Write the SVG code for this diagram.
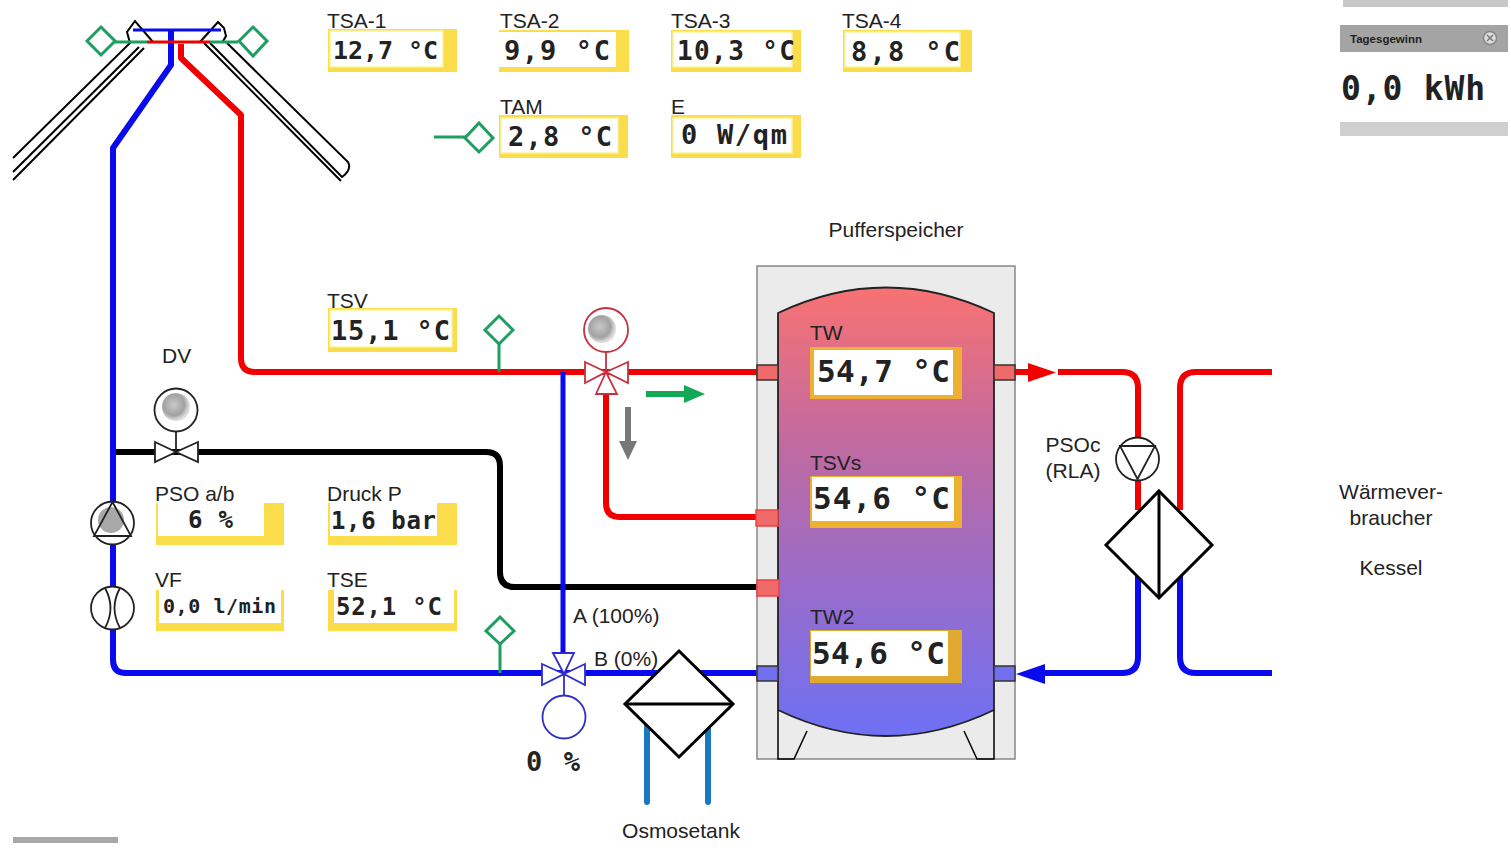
<svg xmlns="http://www.w3.org/2000/svg" width="1511" height="850" viewBox="0 0 1511 850">
<style>
.p{fill:none;stroke-width:6;stroke-linejoin:round;stroke-linecap:butt}
.r{stroke:#f00000}.b{stroke:#0a0aee}.k{stroke:#000}.o{stroke:#1a78c0;stroke-linecap:round}
.t{font-family:"Liberation Sans",Arial,sans-serif;font-size:21px;fill:#222}
.v{font-family:"DejaVu Sans Mono","Liberation Mono",monospace;font-weight:700;fill:#222}
.y{fill:#fbdc4a}.w{fill:#fff;stroke:#f6f3a0;stroke-width:1.500}.n{fill:#fff}
.s{fill:none;stroke:#000;stroke-width:2}
.g{fill:none;stroke:#1f9e62;stroke-width:3}
.vk{fill:#fff;stroke:#222;stroke-width:1.8}
.vr{fill:#fff;stroke:#c83040;stroke-width:1.8}
.vb{fill:#fff;stroke:#2f2fc8;stroke-width:1.8}
.c{fill:none;stroke:#000;stroke-width:2}
</style>
<defs>
<linearGradient id="tank" x1="0" y1="0" x2="0" y2="1"><stop offset="0" stop-color="#f87272"/><stop offset="0.35" stop-color="#c06aa0"/><stop offset="0.65" stop-color="#9a6cc8"/><stop offset="1" stop-color="#6e70f4"/></linearGradient>
<radialGradient id="ball" cx="0.42" cy="0.42" r="0.55"><stop offset="0" stop-color="#c8c8c8"/><stop offset="0.7" stop-color="#a2a2a2"/><stop offset="1" stop-color="#ddd"/></radialGradient>
</defs>
<rect width="1511" height="850" fill="#fff"/>

<g id="collectors">
<path class="s" d="M13 158L130 43L127 32L135 21L153 42M13 172L139 47M13 180L144 48"/>
<path class="s" d="M227 43L348 162Q352 170 342 177L210 43M204 43L341 181M200 42L218 22L224 28L226 36L222 43"/>
</g>

<g id="connectors">
<path class="p b" d="M171 30V65L113 148V660Q113 673 126 673H757"/>
<path class="p r" d="M181 44V58L241 115V358Q241 372 255 372H757"/>
<path d="M147 42H210" fill="none" stroke="#f00000" stroke-width="3"/>
<path d="M133 30H221" fill="none" stroke="#0a0aee" stroke-width="3"/>
<path class="p k" d="M116 452H486Q500 452 500 466V572Q500 587 515 587H757"/>
<path class="p b" style="stroke-width:5" d="M563 372V660"/>
<path class="p r" d="M606 392V503Q606 517 620 517H757"/>
<path class="p r" d="M1058 372H1122Q1138 372 1138 388V510"/>
<path class="p r" d="M1272 372H1196Q1180 372 1180 388V510"/>
<path class="p b" d="M1138 575V657Q1138 673 1122 673H1030"/>
<path class="p b" d="M1180 575V657Q1180 673 1196 673H1272"/>
<path class="p r" d="M1015 372H1035"/>
<path d="M1028 363L1056 372.500L1028 382Z" fill="#f00000"/>
<path d="M1016 674L1045 664V684Z" fill="#0a0aee"/>
<path class="p o" d="M647 725V802M708 725V802"/>
<path d="M114 42H147M210 42H238M434 137H466M499 344V372M500 644V673" fill="none" stroke="#1f9e62" stroke-width="3"/>
<path d="M646 394H685" stroke="#12a855" stroke-width="6" fill="none"/>
<path d="M684 385L705 394L684 403Z" fill="#12a855"/>
<path d="M628 407V443" stroke="#777" stroke-width="6" fill="none"/>
<path d="M619 441H637L628 460Z" fill="#777"/>
</g>

<g id="sensors">
<path class="g" d="M101 27L115 41L101 55L87 41Z"/>
<path class="g" d="M253 27L267 41L253 56L239 41Z"/>
<path class="g" d="M479 123L493 138L479 152L465 138Z"/>
<path class="g" d="M499 316L513 330L499 344L485 330Z"/>
<path class="g" d="M500 617L514 631L500 644L486 631Z"/>
</g>

<g id="tank-group">
<rect x="757" y="266" width="258" height="493" fill="#ebebeb" stroke="#888" stroke-width="1.500"/>
<path d="M778 313Q886 262 994 313V710Q886 762 778 710Z" fill="url(#tank)" stroke="#222" stroke-width="1.800"/>
<path class="c" style="stroke-width:1.500" d="M778 710V759H794L807 731M994 710V759H977L964 731"/>
<g stroke-width="1.500">
<rect x="757" y="365" width="21" height="15" fill="#f06a6a" stroke="#333"/>
<rect x="994" y="365" width="21" height="15" fill="#f06a6a" stroke="#333"/>
<rect x="756" y="510" width="22" height="16" fill="#f06a6a" stroke="#f04040"/>
<rect x="757" y="580" width="22" height="16" fill="#f06a6a" stroke="#f04040"/>
<rect x="757" y="666" width="21" height="15" fill="#7070ee" stroke="#333"/>
<rect x="994" y="666" width="21" height="15" fill="#7070ee" stroke="#333"/>
</g>
</g>

<g id="valve-dv">
<circle cx="176" cy="410" r="21.500" fill="#fff" stroke="#222" stroke-width="1.800"/>
<circle cx="176" cy="407" r="14" fill="url(#ball)"/>
<path d="M176 432V452" stroke="#222" stroke-width="1.800"/>
<path class="vk" d="M155 442L176 452L155 462ZM198 442L176 452L198 462Z"/>
</g>
<g id="valve-top">
<circle cx="606" cy="330" r="22" fill="#fff" stroke="#c83040" stroke-width="1.800"/>
<circle cx="602" cy="329" r="14" fill="url(#ball)"/>
<path d="M606 352V372" stroke="#c83040" stroke-width="1.800"/>
<path class="vr" d="M585 362L606 372L585 383ZM628 362L606 372L628 383ZM596 394L606 372L617 394Z"/>
</g>
<g id="valve-bottom">
<circle cx="564" cy="717" r="21.500" fill="#fff" stroke="#2f2fc8" stroke-width="1.800"/>
<path d="M564 674V696" stroke="#2f2fc8" stroke-width="1.800"/>
<path class="vb" d="M542 664L564 674L542 685ZM585 664L564 674L585 685ZM553 653L564 674L574 653Z"/>
</g>
<g id="pump-pso">
<circle cx="112.500" cy="523" r="21.500" fill="#fff" stroke="#222" stroke-width="1.800"/>
<circle cx="111" cy="520" r="13" fill="#a8a8a8"/>
<path d="M112.500 502L131 536H94Z" fill="none" stroke="#222" stroke-width="1.800"/>
</g>
<g id="flow-vf">
<circle cx="112.500" cy="608" r="21.500" fill="#fff" stroke="#222" stroke-width="1.800"/>
<path d="M105 588Q116 608 105 628M120 588Q109 608 120 628" fill="none" stroke="#222" stroke-width="1.800"/>
</g>
<g id="pump-psoc">
<circle cx="1137.500" cy="459" r="21.500" fill="#fff" stroke="#222" stroke-width="1.800"/>
<path d="M1120 446H1155L1137.500 479Z" fill="none" stroke="#222" stroke-width="1.800"/>
</g>
<g id="hx-osmose">
<path d="M679 651L733 704L679 757L625 704Z" fill="#fff" stroke="#000" stroke-width="3"/>
<path d="M625 704H733" stroke="#000" stroke-width="3"/>
</g>
<g id="hx-kessel">
<path d="M1159 491L1212 545L1159 598L1106 545Z" fill="#fff" stroke="#000" stroke-width="3"/>
<path d="M1159 491V598" stroke="#000" stroke-width="3"/>
</g>

<g id="tsa1"><text class="t" x="327" y="28">TSA-1</text><rect class="y" x="328" y="29" width="129" height="43"/><rect class="w" x="330" y="31" width="113" height="36"/><text class="v" x="333" y="59" font-size="25" textLength="105">12,7 °C</text></g>
<g id="tsa2"><text class="t" x="500" y="28">TSA-2</text><rect class="y" x="499" y="30" width="130" height="42"/><rect class="n" x="499" y="32" width="117" height="35"/><text class="v" x="504" y="60" font-size="27" textLength="106">9,9 °C</text></g>
<g id="tsa3"><text class="t" x="671" y="28">TSA-3</text><rect class="y" x="671" y="30" width="130" height="42"/><rect class="w" x="673" y="32" width="119" height="35"/><text class="v" x="677" y="60" font-size="26" textLength="118">10,3 °C</text></g>
<g id="tsa4"><text class="t" x="842" y="28">TSA-4</text><rect class="y" x="843" y="30" width="129" height="42"/><rect class="w" x="845" y="32" width="115" height="35"/><text class="v" x="851" y="61" font-size="27" textLength="109">8,8 °C</text></g>
<g id="tam"><text class="t" x="500" y="114">TAM</text><rect class="y" x="499" y="115" width="129" height="43"/><rect class="w" x="501" y="118" width="117" height="35"/><text class="v" x="508" y="146" font-size="27" textLength="104">2,8 °C</text></g>
<g id="e"><text class="t" x="671" y="114">E</text><rect class="y" x="671" y="115" width="130" height="43"/><rect class="w" x="673" y="118" width="119" height="35"/><text class="v" x="681" y="144" font-size="27" textLength="106">0 W/qm</text></g>
<g id="tsv"><text class="t" x="327" y="308">TSV</text><rect class="y" x="328" y="308" width="129" height="44"/><rect class="w" x="330" y="310" width="122" height="37"/><text class="v" x="331" y="340" font-size="27" textLength="119">15,1 °C</text></g>
<g id="pso"><text class="t" x="155" y="501">PSO a/b</text><rect class="y" x="156" y="503" width="128" height="42"/><rect class="n" x="158" y="503" width="106" height="33"/><text class="v" x="188" y="528" font-size="24" textLength="45">6 %</text></g>
<g id="druck"><text class="t" x="327" y="501">Druck P</text><rect class="y" x="328" y="503" width="129" height="42"/><rect class="n" x="330" y="503" width="107" height="33"/><text class="v" x="331" y="529" font-size="24" textLength="105">1,6 bar</text></g>
<g id="vf"><text class="t" x="155" y="587">VF</text><rect class="y" x="156" y="590" width="128" height="41"/><rect class="n" x="159" y="590" width="122" height="33"/><text class="v" x="163" y="613" font-size="20" textLength="113">0,0 l/min</text></g>
<g id="tse"><text class="t" x="327" y="587">TSE</text><rect class="y" x="328" y="590" width="129" height="41"/><rect class="n" x="334" y="590" width="120" height="33"/><text class="v" x="336" y="615" font-size="24" textLength="106">52,1 °C</text></g>
<g id="tw"><text class="t" x="810" y="340" fill="#3a1a30">TW</text><rect x="810" y="347" width="152" height="52" fill="#eeb030"/><rect class="n" x="814" y="350" width="139" height="45"/><text class="v" x="817" y="382" font-size="31" textLength="133">54,7 °C</text></g>
<g id="tsvs"><text class="t" x="810" y="470" fill="#3a1a30">TSVs</text><rect x="810" y="476" width="152" height="52" fill="#eeb030"/><rect class="n" x="812" y="477" width="142" height="44"/><text class="v" x="813" y="509" font-size="31" textLength="137">54,6 °C</text></g>
<g id="tw2"><text class="t" x="810" y="624" fill="#2a1a50">TW2</text><rect x="810" y="630" width="152" height="53" fill="#e0aa30"/><rect class="n" x="811" y="631" width="137" height="45"/><text class="v" x="812" y="664" font-size="31" textLength="133">54,6 °C</text></g>

<g id="labels">
<text class="t" x="896" y="237" text-anchor="middle">Pufferspeicher</text>
<text class="t" x="162" y="363">DV</text>
<text class="t" x="573" y="623">A (100%)</text>
<text class="t" x="594" y="666">B (0%)</text>
<text class="v" x="526" y="771" font-size="27" textLength="54">0 %</text>
<text class="t" x="681" y="838" text-anchor="middle">Osmosetank</text>
<text class="t" x="1073" y="452" text-anchor="middle">PSOc</text>
<text class="t" x="1073" y="478" text-anchor="middle">(RLA)</text>
<text class="t" x="1391" y="499" text-anchor="middle">Wärmever-</text>
<text class="t" x="1391" y="525" text-anchor="middle">braucher</text>
<text class="t" x="1391" y="575" text-anchor="middle">Kessel</text>
</g>

<g id="tagesgewinn">
<rect x="1343" y="0" width="165" height="7" fill="#c8c8c8"/>
<rect x="1340" y="25" width="168" height="27" fill="#a4a4a4"/>
<rect x="1340" y="122" width="168" height="14" fill="#cfcfcf"/>
<text x="1350" y="43" font-family="'Liberation Sans',Arial,sans-serif" font-size="11.500" font-weight="700" fill="#222">Tagesgewinn</text>
<circle cx="1490" cy="38" r="6.500" fill="#ddd" stroke="#888" stroke-width="1.500"/>
<path d="M1487 35L1493 41M1493 35L1487 41" stroke="#777" stroke-width="1.500"/>
<text class="v" x="1341" y="100" font-size="33" textLength="144">0,0 kWh</text>
</g>

<rect id="status-strip" x="13" y="837" width="105" height="6" fill="#a8a8a8"/>
</svg>
